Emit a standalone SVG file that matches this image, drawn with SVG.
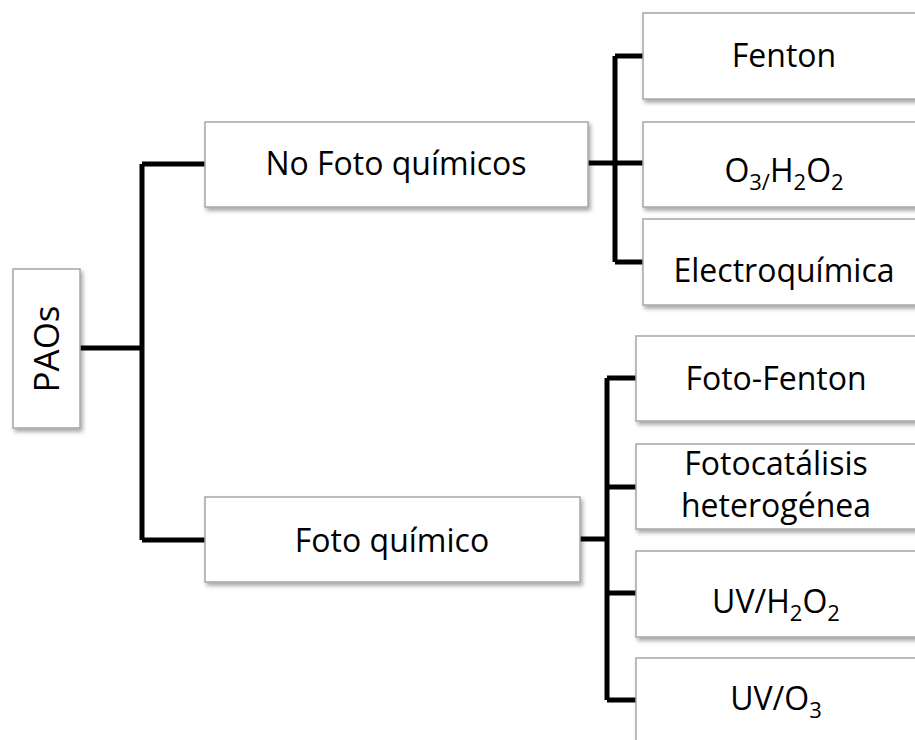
<svg xmlns="http://www.w3.org/2000/svg" width="915" height="740" viewBox="0 0 915 740">
<defs>
<filter id="sh" x="-10%" y="-10%" width="130%" height="140%">
<feDropShadow dx="2" dy="3" stdDeviation="2" flood-color="#000" flood-opacity="0.35"/>
</filter>
<style>
.box{fill:#fff;stroke:#a6a6a6;stroke-width:1.5;filter:url(#sh)}
.t{font-family:"Open Sans","Liberation Sans",sans-serif;font-size:32px;fill:#000;text-anchor:middle}
.c{fill:none;stroke:#000;stroke-width:5;stroke-linejoin:round}
</style>
</defs>
<rect width="915" height="740" fill="#fff"/>
<g id="connectors">
<path class="c" d="M80 348H142M142 164V540M142 164H205M142 540H205"/>
<path class="c" d="M588 163H615M615 56V262M615 56H643M615 163H643M615 262H643"/>
<path class="c" d="M580 539H607M607 378V700M607 378H636M607 487H636M607 593H636M607 700H636"/>
</g>
<g id="paos">
<rect class="box" x="13" y="269" width="67" height="159"/>
<text class="t" transform="translate(59,349) rotate(-90)" style="font-size:35px">PAOs</text>
</g>
<g id="nofoto">
<rect class="box" x="205" y="122" width="383" height="85"/>
<text class="t" x="396" y="175">No Foto químicos</text>
</g>
<g id="foto">
<rect class="box" x="205" y="497" width="375" height="85"/>
<text class="t" x="392" y="552">Foto químico</text>
</g>
<g id="fenton">
<rect class="box" x="643" y="13" width="282" height="86"/>
<text class="t" x="784" y="67">Fenton</text>
</g>
<g id="o3h2o2">
<rect class="box" x="643" y="122" width="282" height="85"/>
<text class="t" x="784" y="182">O<tspan dy="8" font-size="22">3/</tspan><tspan dy="-8">H</tspan><tspan dy="8" font-size="22">2</tspan><tspan dy="-8">O</tspan><tspan dy="8" font-size="22">2</tspan></text>
</g>
<g id="electro">
<rect class="box" x="643" y="219" width="282" height="86"/>
<text class="t" x="784" y="282">Electroquímica</text>
</g>
<g id="fotofenton">
<rect class="box" x="636" y="336" width="282" height="85"/>
<text class="t" x="776" y="390">Foto-Fenton</text>
</g>
<g id="fotocat">
<rect class="box" x="636" y="444" width="282" height="85"/>
<text class="t" x="776" y="475">Fotocatálisis</text>
<text class="t" x="776" y="517">heterogénea</text>
</g>
<g id="uvh2o2">
<rect class="box" x="636" y="551" width="282" height="86"/>
<text class="t" x="776" y="613">UV/H<tspan dy="8" font-size="22">2</tspan><tspan dy="-8">O</tspan><tspan dy="8" font-size="22">2</tspan></text>
</g>
<g id="uvo3">
<rect class="box" x="636" y="658" width="282" height="90"/>
<text class="t" x="776" y="710">UV/O<tspan dy="8" font-size="22">3</tspan></text>
</g>
</svg>
